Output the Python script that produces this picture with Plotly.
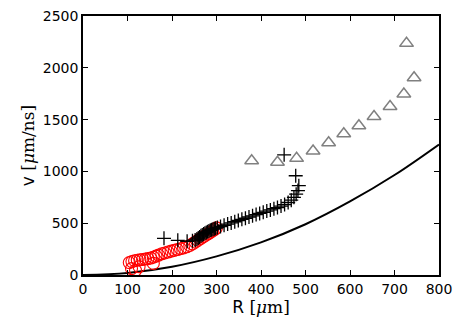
import plotly.graph_objs as go

# black model curve
curve_r = [0, 100, 200, 300, 400, 500, 600, 700, 800]
curve_v = [0, 20, 80, 180, 315, 490, 710, 965, 1260]

# gray triangles
tri_r = [379, 437, 480, 517, 552, 586, 620, 654, 690, 721, 744, 727]
tri_v = [1103, 1088, 1126, 1197, 1277, 1364, 1441, 1530, 1626, 1747, 1904, 2236]

# black crosses
plus_r = [182, 213, 234, 246, 252, 256, 259, 262, 265, 268, 271, 274, 277, 280, 283, 286,
          289, 292, 295, 298, 302, 309, 317, 325, 333, 341, 349, 357, 365, 373, 381, 389,
          397, 405, 413, 421, 429, 437, 445, 453, 461, 468, 474, 479, 483, 485, 478, 452]
plus_v = [354, 335, 325, 330, 338, 348, 358, 368, 378, 387, 395, 403, 410, 417, 424, 431,
          437, 442, 447, 452, 458, 468, 480, 492, 503, 514, 526, 537, 548, 560, 571, 583,
          594, 605, 617, 628, 640, 651, 665, 680, 700, 722, 750, 780, 815, 862, 958, 1160]

# red open circles
circ_r = [104, 110, 116, 122, 128, 134, 140, 146, 152, 158, 164, 170, 177, 184, 191, 198,
          205, 212, 219, 226, 233, 240, 246, 252, 258, 264, 270, 276, 281, 286, 291, 296,
          300, 109, 118, 126, 158]
circ_v = [120, 130, 138, 143, 147, 150, 154, 158, 164, 172, 182, 192, 205, 213, 222, 230,
          238, 246, 254, 262, 272, 285, 300, 318, 335, 352, 368, 384, 398, 412, 426, 440,
          455, 62, 45, 80, 112]

x_ticks = [0, 100, 200, 300, 400, 500, 600, 700, 800]
y_ticks = [0, 500, 1000, 1500, 2000, 2500]

serif = "<span style=\"font-family:'DejaVu Serif'\">"

fig = go.Figure()
fig.add_trace(go.Scatter(x=curve_r, y=curve_v, mode='lines', line_shape='spline',
                         line=dict(color='black', width=2)))
fig.add_trace(go.Scatter(x=circ_r, y=circ_v, mode='markers',
                         marker=dict(symbol='circle-open', size=12, color='red',
                                     line=dict(width=1.1, color='red'))))
fig.add_trace(go.Scatter(x=plus_r, y=plus_v, mode='markers',
                         marker=dict(symbol='cross-thin-open', size=10, color='black',
                                     line=dict(width=1.3, color='black'))))
fig.add_trace(go.Scatter(x=tri_r, y=tri_v, mode='markers',
                         marker=dict(symbol='triangle-up-open', size=12, color='gray',
                                     line=dict(width=1.5, color='gray'))))

axis_style = dict(showgrid=False, zeroline=False, showline=True, linecolor='black',
                  linewidth=1.5, mirror='allticks', ticks='inside', ticklen=5,
                  tickwidth=1, tickcolor='black', automargin=False,
                  ticklabeloverflow='allow',
                  tickfont=dict(family='DejaVu Sans', size=14, color='black'))

fig.update_xaxes(range=[0, 800], tickvals=x_ticks,
                 title=dict(text='R ' + serif + '[<i>μ</i>m]</span>', standoff=2,
                            font=dict(family='DejaVu Sans', size=17, color='black')),
                 **axis_style)
fig.update_yaxes(range=[0, 2500], tickvals=y_ticks,
                 title=dict(text='v ' + serif + '[<i>μ</i>m/ns]</span>', standoff=4,
                            font=dict(family='DejaVu Sans', size=17, color='black')),
                 **axis_style)

# page body adds an 8px offset, so the figure is 8px smaller than the window
fig.update_layout(width=455, height=316, showlegend=False,
                  margin=dict(l=75, r=24, t=8, b=49),
                  plot_bgcolor='white', paper_bgcolor='white')

fig.write_html("out.html")
